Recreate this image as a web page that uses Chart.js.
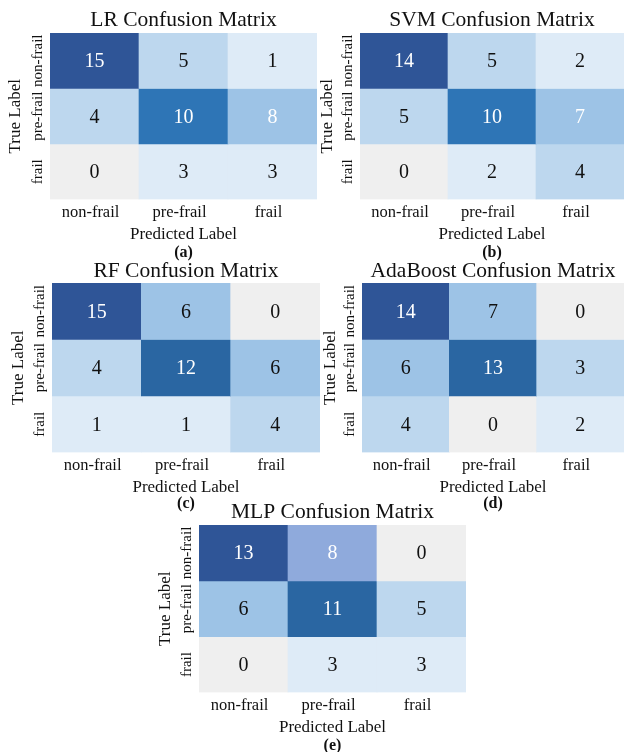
<!DOCTYPE html>
<html>
<head>
<meta charset="utf-8">
<script src="https://cdn.jsdelivr.net/npm/chart.js@4"></script>
<style>
  body { margin: 0; background: #fff; }
  #wrap { position: relative; width: 625px; height: 752px; overflow: hidden; }
  #wrap canvas { position: absolute; }
</style>
</head>
<body>
<div id="wrap"></div>
<script>
// class names, used for both axes
const classes = ['non-frail', 'pre-frail', 'frail'];

// confusion matrices, rows = true label, cols = predicted label
const lrMatrix = [[15, 5, 1], [4, 10, 8], [0, 3, 3]];
const svmMatrix = [[14, 5, 2], [5, 10, 7], [0, 2, 4]];
const rfMatrix = [[15, 6, 0], [4, 12, 6], [1, 1, 4]];
const adaMatrix = [[14, 7, 0], [6, 13, 3], [4, 0, 2]];
const mlpMatrix = [[13, 8, 0], [6, 11, 5], [0, 3, 3]];

const titles = ['LR Confusion Matrix', 'SVM Confusion Matrix', 'RF Confusion Matrix',
    'AdaBoost Confusion Matrix', 'MLP Confusion Matrix'];
const captions = ['(a)', '(b)', '(c)', '(d)', '(e)'];

// colours (style only)
const palette = ['#efefef', '#deebf7', '#bdd7ee', '#9dc3e6', '#8faadc', '#2e75b6', '#2a66a2', '#2f5597'];
const shades = [
    [[7, 2, 1], [2, 5, 3], [0, 1, 1]],
    [[7, 2, 1], [2, 5, 3], [0, 1, 2]],
    [[7, 3, 0], [2, 6, 3], [1, 1, 2]],
    [[7, 3, 0], [3, 6, 2], [2, 0, 1]],
    [[7, 4, 0], [3, 6, 2], [0, 1, 1]]
];
const whiteText = [
    [[1, 0, 0], [0, 1, 1], [0, 0, 0]],
    [[1, 0, 0], [0, 1, 1], [0, 0, 0]],
    [[1, 0, 0], [0, 1, 0], [0, 0, 0]],
    [[1, 0, 0], [0, 1, 0], [0, 0, 0]],
    [[1, 1, 0], [0, 1, 0], [0, 0, 0]]
];

// canvas placement, y-axis width and a few paddings for each panel
const panels = [
    { left: 0, top: 0, w: 320, h: 261, yw: 50, right: 3, titleTop: 10, titleBottom: 1.5, capTop: 2, yTitle: 5 },
    { left: 305, top: 0, w: 320, h: 261, yw: 55, right: 1, titleTop: 10, titleBottom: 1.5, capTop: 2, yTitle: 12 },
    { left: 0, top: 250, w: 322, h: 262, yw: 52, right: 2, titleTop: 11, titleBottom: 0.5, capTop: 0, yTitle: 8 },
    { left: 305, top: 250, w: 320, h: 262, yw: 57, right: 1, titleTop: 11, titleBottom: 0.5, capTop: 0, yTitle: 15 },
    { left: 150, top: 490, w: 320, h: 264, yw: 49, right: 4, titleTop: 12, titleBottom: 1.5, capTop: 2, yTitle: 5 }
];

const matrices = [lrMatrix, svmMatrix, rfMatrix, adaMatrix, mlpMatrix];
const serif = "'Liberation Serif', 'Times New Roman', serif";

const cellLabels = {
    id: 'cellLabels',
    afterDatasetsDraw(chart, args, opts) {
        const ctx = chart.ctx;
        ctx.save();
        ctx.font = `20px ${serif}`;
        ctx.textAlign = 'center';
        ctx.textBaseline = 'middle';
        opts.matrix.forEach((row, r) => {
            const meta = chart.getDatasetMeta(r);
            meta.data.forEach((bar, c) => {
                ctx.fillStyle = opts.white[r][c] ? '#ffffff' : '#111111';
                ctx.fillText(String(row[c]), bar.x, (bar.y + bar.base) / 2 + 1);
            });
        });
        ctx.restore();
    }
};

const rowTicks = {
    id: 'rowTicks',
    afterDraw(chart) {
        const ctx = chart.ctx;
        const yScale = chart.scales.y;
        ctx.save();
        ctx.font = `15px ${serif}`;
        ctx.fillStyle = '#111111';
        ctx.textAlign = 'center';
        ctx.textBaseline = 'middle';
        classes.forEach((name, i) => {
            ctx.save();
            ctx.translate(chart.chartArea.left - 12, yScale.getPixelForValue(i));
            ctx.rotate(-Math.PI / 2);
            ctx.fillText(name, 0, 0);
            ctx.restore();
        });
        ctx.restore();
    }
};

const wrap = document.getElementById('wrap');

matrices.forEach((matrix, k) => {
    const p = panels[k];
    const canvas = document.createElement('canvas');
    canvas.width = p.w;
    canvas.height = p.h;
    canvas.style.left = p.left + 'px';
    canvas.style.top = p.top + 'px';
    wrap.appendChild(canvas);

    const datasets = matrix.map((row, r) => ({
        label: classes[r],
        data: row.map(() => [r - 0.5, r + 0.5]),
        backgroundColor: shades[k][r].map(s => palette[s]),
        borderWidth: 0,
        barPercentage: 1,
        categoryPercentage: 1,
        grouped: false
    }));

    new Chart(canvas.getContext('2d'), {
        type: 'bar',
        data: { labels: classes, datasets: datasets },
        options: {
            responsive: false,
            animation: false,
            devicePixelRatio: 1,
            layout: { padding: { left: 0, right: p.right, top: 0, bottom: 0 } },
            plugins: {
                legend: { display: false },
                tooltip: { enabled: false },
                title: {
                    display: true,
                    text: titles[k],
                    fullSize: false,
                    color: '#111111',
                    font: { family: serif, size: 21.5, weight: 'normal', lineHeight: 1 },
                    padding: { top: p.titleTop, bottom: p.titleBottom }
                },
                subtitle: {
                    display: true,
                    text: captions[k],
                    position: 'bottom',
                    fullSize: false,
                    color: '#111111',
                    font: { family: serif, size: 16, weight: 'bold', lineHeight: 1 },
                    padding: { top: p.capTop, bottom: 0 }
                },
                cellLabels: { matrix: matrix, white: whiteText[k] }
            },
            scales: {
                x: {
                    type: 'category',
                    grid: { display: false, drawTicks: false, tickLength: 0 },
                    border: { display: false },
                    ticks: {
                        color: '#111111',
                        font: { family: serif, size: 16.5, lineHeight: 1 },
                        padding: 5,
                        maxRotation: 0,
                        labelOffset: -4
                    },
                    title: {
                        display: true,
                        text: 'Predicted Label',
                        color: '#111111',
                        font: { family: serif, size: 17, lineHeight: 1 },
                        padding: { top: 0, bottom: 0 }
                    }
                },
                y: {
                    type: 'linear',
                    min: -0.5,
                    max: 2.5,
                    reverse: true,
                    grid: { display: false, drawTicks: false, tickLength: 0 },
                    border: { display: false },
                    ticks: { display: false },
                    title: {
                        display: true,
                        text: 'True Label',
                        color: '#111111',
                        font: { family: serif, size: 17 },
                        padding: { top: p.yTitle, bottom: 0 }
                    },
                    afterFit: scale => { scale.width = p.yw; }
                }
            }
        },
        plugins: [cellLabels, rowTicks]
    });
});
</script>
</body>
</html>
